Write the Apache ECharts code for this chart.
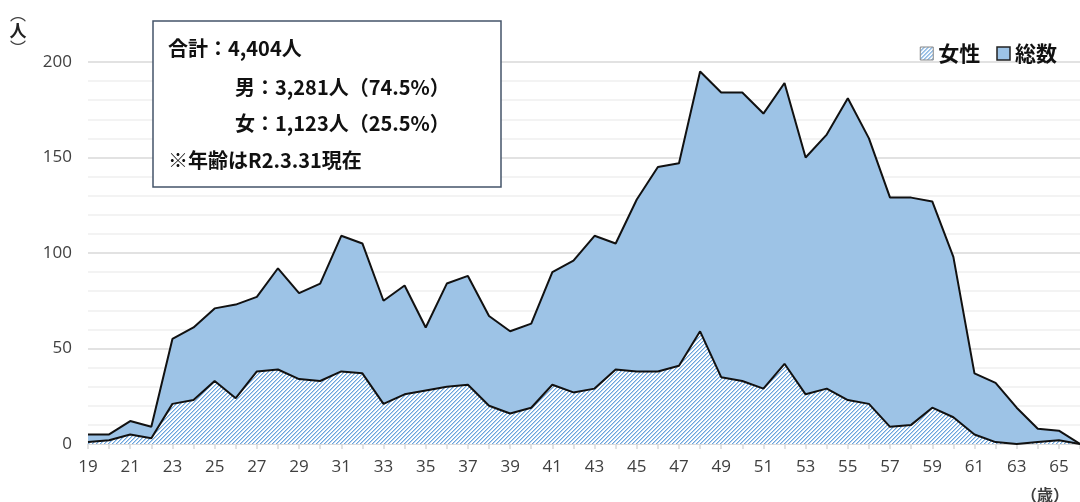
<!DOCTYPE html>
<html>
<head>
<meta charset="utf-8">
<script src="https://cdn.jsdelivr.net/npm/echarts@6/dist/echarts.min.js"></script>
<style>
  html, body { margin: 0; padding: 0; background: #fff; }
  #main { width: 1080px; height: 502px; }
</style>
</head>
<body>
<div id="main"></div>
<script>
// 年齢別職員数（総数・女性）

var ages = [];
for (var a = 19; a <= 66; a++) ages.push(String(a));

var totalCounts = [5, 5, 12, 9, 55, 61, 71, 73, 77, 92, 79, 84, 109, 105, 75, 83, 61, 84, 88, 67,
    59, 63, 90, 96, 109, 105, 128, 145, 147, 195, 184, 184, 173, 189, 150, 162, 181, 160, 129, 129,
    127, 98, 37, 32, 19, 8, 7, 0];
var femaleCounts = [1, 2, 5, 3, 21, 23, 33, 24, 38, 39, 34, 33, 38, 37, 21, 26, 28, 30, 31, 20,
    16, 19, 31, 27, 29, 39, 38, 38, 41, 59, 35, 33, 29, 42, 26, 29, 23, 21, 9, 10,
    19, 14, 5, 1, 0, 1, 2, 0];
var yTicks = [0, 50, 100, 150, 200];

var noteLines = [
    '合計：4,404人',
    '男：3,281人（74.5%）',
    '女：1,123人（25.5%）',
    '※年齢はR2.3.31現在'
];

// 斜線パターン（女性）: 1pxずつ塗って "/" の線にする
function makeHatch() {
    var c = document.createElement('canvas');
    c.width = 4;
    c.height = 4;
    var ctx = c.getContext('2d');
    ctx.fillStyle = '#ffffff';
    ctx.fillRect(0, 0, 4, 4);
    for (var i = 0; i < 4; i++) {
        ctx.fillStyle = '#6aa4dc';
        ctx.fillRect(i, 3 - i, 1, 1);
        ctx.fillStyle = '#b8d3ef';
        ctx.fillRect(i, (4 - i) % 4, 1, 1);
    }
    return c;
}
var hatchCanvas = makeHatch();

var cjk = '"Noto Sans CJK JP", "Noto Sans", sans-serif';
var num = '"Open Sans", "Noto Sans", sans-serif';

var myChart = echarts.init(document.getElementById('main'), null, { renderer: 'canvas' });

var option = {
    animation: false,
    backgroundColor: '#fff',
    grid: { left: 88, right: -6, top: 62, bottom: 58 },
    legend: {
        right: 18,
        top: 38,
        itemWidth: 13,
        itemHeight: 13,
        itemGap: 16,
        icon: 'rect',
        textStyle: { fontFamily: cjk, fontSize: 21, fontWeight: 'bold', color: '#111' },
        data: [
            { name: '女性', itemStyle: { color: { image: hatchCanvas, repeat: 'repeat' }, borderColor: '#888', borderWidth: 1 } },
            { name: '総数', itemStyle: { color: '#9dc3e6', borderColor: '#222', borderWidth: 1.5 } }
        ]
    },
    xAxis: {
        type: 'category',
        boundaryGap: false,
        data: ages,
        axisLine: { lineStyle: { color: '#d9d9d9', width: 1.5 } },
        axisTick: { show: true, interval: 0, length: 5, lineStyle: { color: '#d9d9d9', width: 1.5 } },
        axisLabel: { interval: 1, margin: 15, fontFamily: num, fontSize: 17, color: '#404040' },
        splitLine: { show: false }
    },
    yAxis: {
        type: 'value',
        min: 0,
        max: 200,
        interval: 50,
        axisLine: { show: false },
        axisTick: { show: false },
        axisLabel: {
            margin: 16, fontFamily: num, fontSize: 17, color: '#404040',
            formatter: function (v) { return yTicks.indexOf(v) >= 0 ? String(v) : ''; }
        },
        splitLine: { lineStyle: { color: '#d9d9d9', width: 1.5 } },
        minorTick: { show: false, splitNumber: 5 },
        minorSplitLine: { show: true, lineStyle: { color: '#f0f0f0', width: 1.5 } }
    },
    series: [
        {
            name: '総数',
            type: 'line',
            data: totalCounts,
            symbol: 'none',
            z: 2,
            lineStyle: { color: '#111', width: 2 },
            itemStyle: { color: '#9dc3e6' },
            areaStyle: { color: '#9dc3e6', opacity: 1 }
        },
        {
            name: '女性',
            type: 'line',
            data: femaleCounts,
            symbol: 'none',
            z: 3,
            lineStyle: { color: '#111', width: 2 },
            itemStyle: { color: '#5b9bd5' },
            areaStyle: { color: { image: hatchCanvas, repeat: 'repeat' }, opacity: 1 }
        }
    ],
    graphic: [
        {
            type: 'text', x: 18, y: 14,
            style: { text: '︵', font: '16px ' + cjk, fill: '#404040', align: 'center', verticalAlign: 'middle' }
        },
        {
            type: 'text', x: 18, y: 31,
            style: { text: '人', font: 'bold 17px ' + cjk, fill: '#222', align: 'center', verticalAlign: 'middle' }
        },
        {
            type: 'text', x: 18, y: 48,
            style: { text: '︶', font: '16px ' + cjk, fill: '#404040', align: 'center', verticalAlign: 'middle' }
        },
        {
            type: 'text', x: 1021, y: 495,
            style: { text: '（歳）', font: 'bold 16px ' + cjk, fill: '#404040', verticalAlign: 'middle' }
        },
        {
            type: 'rect', x: 153, y: 21, z: 10,
            shape: { width: 348, height: 166 },
            style: { fill: '#fff', stroke: '#44546a', lineWidth: 1.5 }
        },
        {
            type: 'text', x: 168, y: 48, z: 11,
            style: { text: noteLines[0], font: 'bold 20px ' + cjk, fill: '#111', verticalAlign: 'middle' }
        },
        {
            type: 'text', x: 235, y: 87, z: 11,
            style: { text: noteLines[1], font: 'bold 20px ' + cjk, fill: '#111', verticalAlign: 'middle' }
        },
        {
            type: 'text', x: 235, y: 123, z: 11,
            style: { text: noteLines[2], font: 'bold 20px ' + cjk, fill: '#111', verticalAlign: 'middle' }
        },
        {
            type: 'text', x: 168, y: 160, z: 11,
            style: { text: noteLines[3], font: 'bold 20px ' + cjk, fill: '#111', verticalAlign: 'middle' }
        }
    ]
};

myChart.setOption(option);
</script>
</body>
</html>
